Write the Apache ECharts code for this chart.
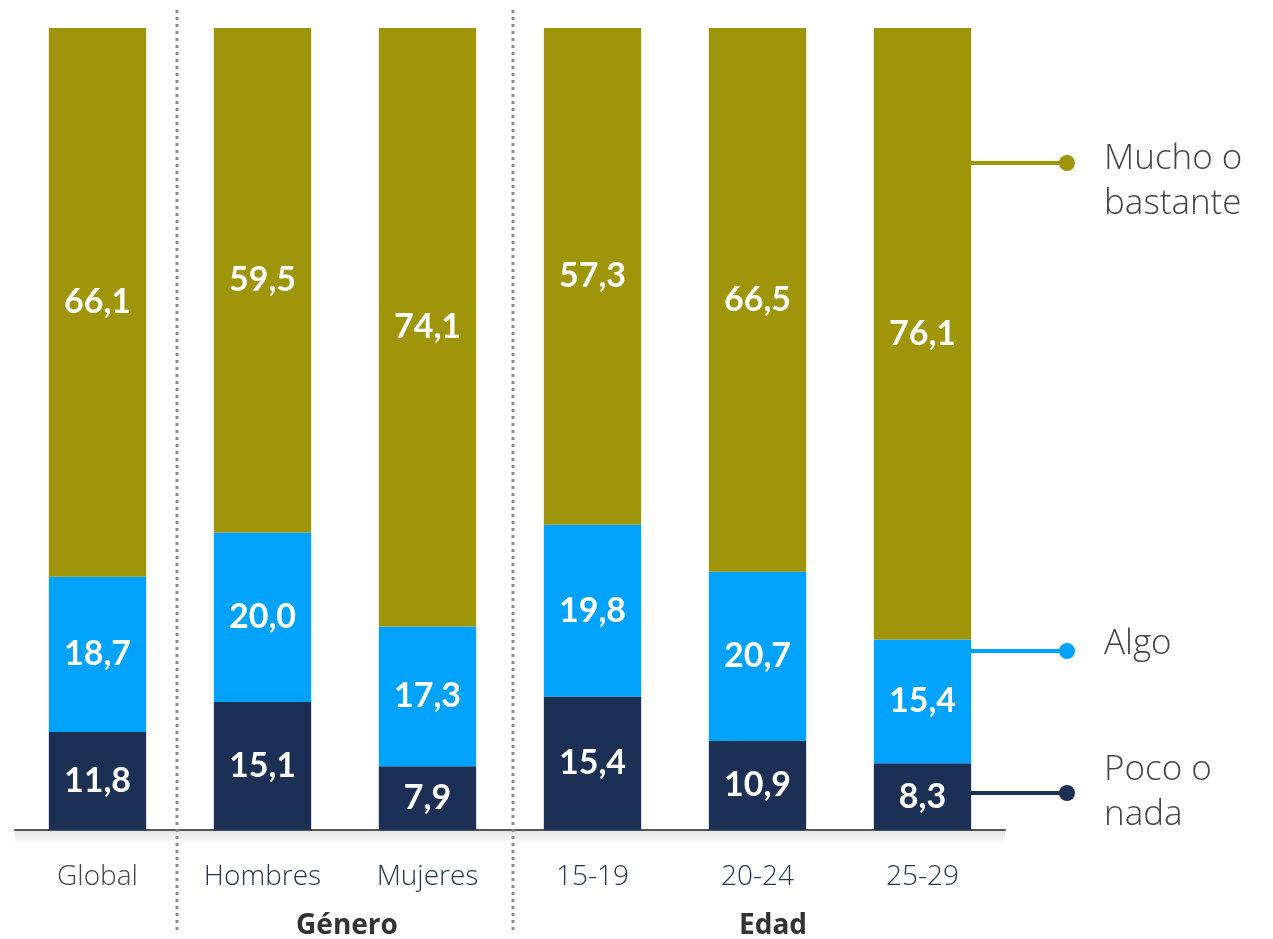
<!DOCTYPE html>
<head>
  <meta charset="utf-8">
  <script src="https://cdn.jsdelivr.net/npm/echarts@6/dist/echarts.min.js"></script>
  <style>
    html,body{margin:0;padding:0;background:#fff;}
    #chart{width:1273px;height:939px;}
  </style>
</head>
<body>
  <div id="chart"></div>
  <script>
    var categories = ['Global', 'Hombres', 'Mujeres', '15-19', '20-24', '25-29'];
    var poco = [11.8, 15.1, 7.9, 15.4, 10.9, 8.3];
    var algo = [18.7, 20.0, 17.3, 19.8, 20.7, 15.4];
    var mucho = [66.1, 59.5, 74.1, 57.3, 66.5, 76.1];
    var seriesNames = ['Poco o\nnada', 'Algo', 'Mucho o\nbastante'];
    var colors = ['#1c3056', '#00a2fb', '#9e950b'];

    // bars are drawn as share of the three answers (all reach the top)
    var totals = categories.map(function(c, i){ return poco[i] + algo[i] + mucho[i]; });
    function share(arr){
      return arr.map(function(v, i){ return {value: v / totals[i] * 100, raw: v}; });
    }
    var fmt = function(p){ return p.data.raw.toFixed(1).replace('.', ','); };

    var myChart = echarts.init(document.getElementById('chart'));
    var series = [poco, algo, mucho].map(function(arr, k){
      return {
        name: seriesNames[k],
        type: 'bar',
        stack: 'all',
        barWidth: '59%',
        data: share(arr),
        itemStyle: {color: colors[k]},
        label: {
          show: true,
          position: 'inside',
          formatter: fmt,
          color: '#fff',
          fontFamily: 'Lato',
          fontWeight: 'bold',
          fontSize: 34
        }
      };
    });

    var option = {
      animation: false,
      grid: {left: 15, right: 268, top: 28, bottom: 109},
      xAxis: {
        type: 'category',
        data: categories,
        axisLine: {lineStyle: {color: '#555', width: 2}},
        axisTick: {show: false},
        axisLabel: {
          margin: 33,
          fontFamily: 'Open Sans',
          fontWeight: 300,
          fontSize: 28,
          color: function(v){ return v === 'Global' ? '#444' : '#243658'; }
        }
      },
      yAxis: {type: 'value', min: 0, max: 100, show: false},
      series: series,
      graphic: []
    };
    myChart.setOption(option);

    // separators, group titles and the right side labels
    var g = [];
    [177, 513].forEach(function(x){
      g.push({type: 'line', shape: {x1: x, y1: 10, x2: x, y2: 934},
        style: {stroke: '#8c8c8c', lineWidth: 3, lineDash: [3, 4]}, z: 10});
    });
    g.push({type: 'rect', shape: {x: 15, y: 831, width: 990, height: 14},
      style: {fill: new echarts.graphic.LinearGradient(0, 0, 0, 1, [
        {offset: 0, color: 'rgba(0,0,0,0.10)'}, {offset: 1, color: 'rgba(0,0,0,0)'}])}, z: 1});
    [['Género', 347], ['Edad', 773]].forEach(function(t){
      g.push({type: 'text', x: t[1], y: 926, style: {text: t[0], fill: '#333',
        font: 'bold 28px "Open Sans"', align: 'center', verticalAlign: 'middle'}});
    });
    var last = categories.length - 1;
    var barRight = myChart.convertToPixel({xAxisIndex: 0}, last) + 48;
    var legendY = [793, 651, 163];
    var textY = [793, 644, 182];
    for (var k = 0; k < 3; k++){
      g.push({type: 'line', shape: {x1: barRight, y1: legendY[k], x2: 1067, y2: legendY[k]},
        style: {stroke: colors[k], lineWidth: 4}});
      g.push({type: 'circle', shape: {cx: 1067, cy: legendY[k], r: 8}, style: {fill: colors[k]}});
      g.push({type: 'text', x: 1104, y: textY[k], style: {text: seriesNames[k], fill: '#444',
        font: '300 35px "Open Sans"', lineHeight: 45, verticalAlign: 'middle'}});
    }
    myChart.setOption({graphic: g});
  </script>
</body>
